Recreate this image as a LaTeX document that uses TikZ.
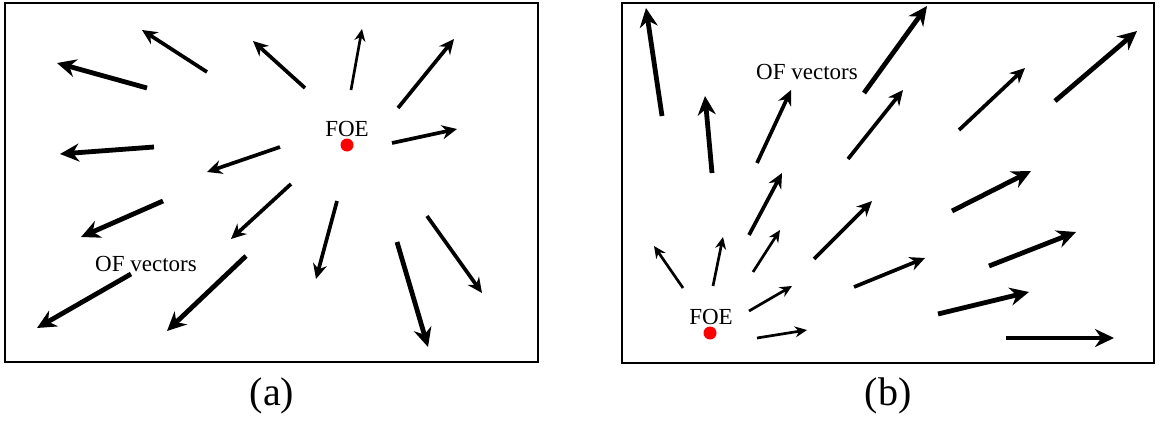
\documentclass[tikz,border=0pt]{standalone}
\usepackage{fontspec}
\setmainfont{Liberation Serif}
\usetikzlibrary{arrows.meta}

\begin{document}
\begin{tikzpicture}[x=0.5pt, y=-0.5pt,
    frame/.style={line width=1.3pt},
    thinvec/.style={line width=1.35pt, -{Stealth[length=6pt, width=5.5pt]}},
    midvec/.style={line width=1.85pt, -{Stealth[length=7.5pt, width=7pt]}},
    thickvec/.style={line width=2.4pt, -{Stealth[length=9.5pt, width=9pt]}},
    foe/.style={circle, fill=red, inner sep=0pt, minimum size=6.5pt},
    lbl/.style={font=\fontsize{11.5}{12}\selectfont, inner sep=0pt},
    subcap/.style={font=\fontsize{20}{21}\selectfont, inner sep=0pt}]
    \useasboundingbox (0,0) rectangle (1160,423);

    % Frames
    \draw[frame] (5,3) rectangle (538,362);
    \draw[frame] (622,3) rectangle (1154,363);

    % (a): vectors moving away from the FOE
    \foreach \xa/\ya/\xb/\yb in {147/88/57/63, 154/147/60/154, 163/201/81/237,
        131/274/37/328, 246/256/167/331, 397/242/428/347}
        \draw[thickvec] (\xa,\ya) -- (\xb,\yb);
    \foreach \xa/\ya/\xb/\yb in {207/72/142/30, 305/88/253/41, 280/147/207/172,
        291/184/231/239, 398/108/454/39, 392/143/457/129, 337/201/316/279,
        427/216/482/293}
        \draw[midvec] (\xa,\ya) -- (\xb,\yb);
    \draw[thinvec] (351,90) -- (362,29);

    \node[foe] (foeA) at (347,145) {};
    \node[lbl] (foeAtxt) at (347,129) {FOE};
    \node[lbl] (ofA) at (146,264) {OF vectors};
    \node[subcap] (capA) at (272,396) {(a)};

    % (b): FOE near the lower left corner
    \foreach \xa/\ya/\xb/\yb in {662/116/646/8, 712/173/705/96, 864/93/927/6,
        1055/101/1137/31, 952/211/1031/171, 989/266/1076/232,
        938/314/1029/292, 1006/338/1114/338}
        \draw[thickvec] (\xa,\ya) -- (\xb,\yb);
    \foreach \xa/\ya/\xb/\yb in {757/163/791/90, 848/159/903/90, 959/130/1025/68,
        749/235/782/173, 814/259/872/201, 854/287/925/258}
        \draw[midvec] (\xa,\ya) -- (\xb,\yb);
    \foreach \xa/\ya/\xb/\yb in {683/288/654/246, 713/286/723/237, 753/272/780/230,
        749/311/792/286, 757/338/807/330}
        \draw[thinvec] (\xa,\ya) -- (\xb,\yb);

    \node[foe] (foeB) at (710,333) {};
    \node[lbl] (foeBtxt) at (711,317) {FOE};
    \node[lbl] (ofB) at (807,72) {OF vectors};
    \node[subcap] (capB) at (888,396) {(b)};
\end{tikzpicture}
\end{document}
